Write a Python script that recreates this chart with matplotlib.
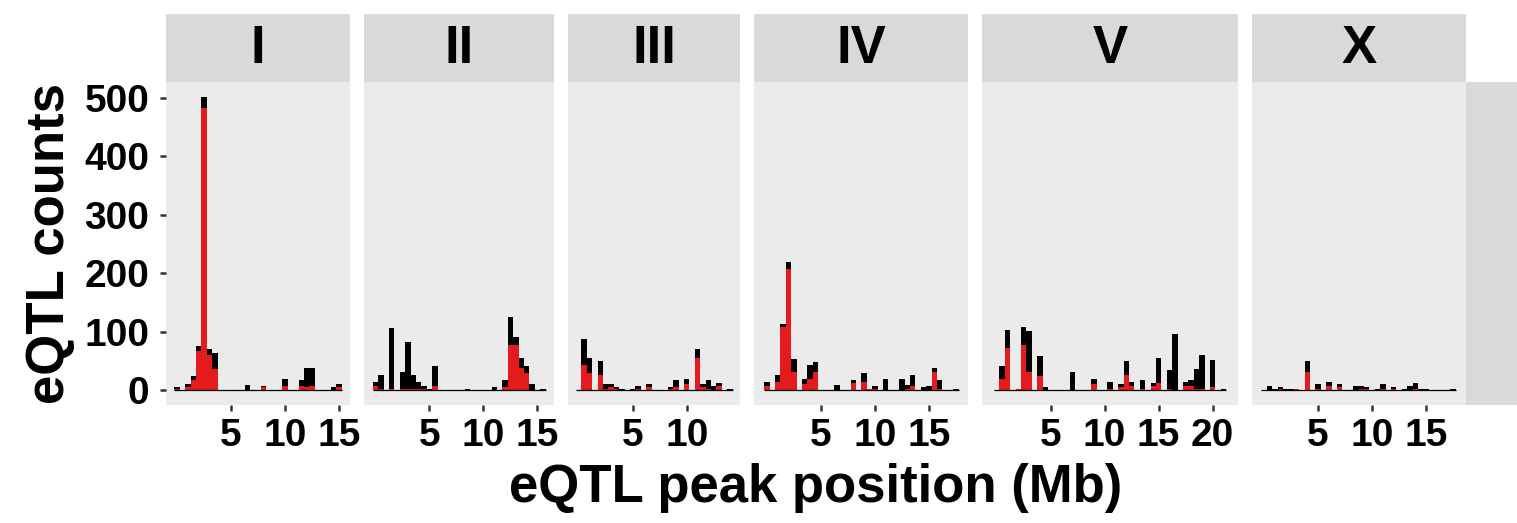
import numpy as np
import matplotlib
matplotlib.use("Agg")
import matplotlib.pyplot as plt
from matplotlib.patches import Rectangle

# eQTL counts per 0.5 Mb bin, starting at 0 Mb (black = all, red = red subset)
chroms = ["I", "II", "III", "IV", "V", "X"]

all_I = [5, 0, 10, 24, 75, 502, 70, 63, 0, 0, 0, 0, 0, 9, 0, 0, 7, 0, 0, 0,
         20, 0, 0, 17, 38, 39, 0, 0, 0, 5, 10]
red_I = [2, 0, 5, 17, 68, 482, 60, 36, 0, 0, 0, 0, 0, 1, 0, 0, 5, 0, 0, 0,
         7, 0, 0, 7, 6, 7, 0, 0, 0, 1, 5]

all_II = [15, 26, 0, 106, 0, 31, 82, 26, 15, 7, 2, 41, 0, 0, 0, 0, 0, 3, 0, 0,
          0, 0, 5, 0, 17, 126, 92, 56, 41, 10, 0, 2]
red_II = [7, 2, 0, 2, 0, 2, 2, 2, 3, 3, 1, 8, 0, 0, 0, 0, 0, 1, 0, 0,
          0, 0, 0, 0, 5, 77, 77, 39, 29, 0, 0, 0]

all_III = [0, 87, 56, 0, 50, 10, 10, 5, 3, 0, 2, 8, 0, 10, 0, 0, 0, 5, 17, 0,
           19, 0, 70, 10, 17, 7, 12, 0, 2]
red_III = [0, 44, 29, 0, 27, 3, 5, 3, 1, 0, 1, 3, 0, 5, 0, 0, 0, 2, 5, 0,
           10, 0, 56, 5, 3, 1, 8, 0, 0]

all_IV = [14, 0, 27, 113, 220, 53, 0, 20, 44, 48, 0, 0, 0, 9, 0, 0, 17, 0, 29, 3,
          7, 0, 20, 0, 0, 20, 9, 27, 0, 5, 7, 39, 17, 0, 0, 2]
red_IV = [7, 0, 14, 109, 208, 31, 0, 10, 19, 31, 0, 0, 0, 1, 0, 0, 12, 0, 14, 2,
          3, 0, 1, 0, 0, 1, 2, 7, 0, 1, 0, 31, 2, 0, 0, 0]

all_V = [0, 41, 103, 0, 3, 108, 101, 0, 58, 5, 0, 0, 0, 0, 32, 0, 0, 0, 19, 0,
         0, 14, 0, 10, 50, 15, 0, 17, 0, 12, 56, 0, 34, 97, 0, 15, 17, 36, 60, 0,
         51, 0, 2]
red_V = [0, 20, 73, 0, 2, 77, 31, 0, 24, 0, 0, 0, 0, 0, 1, 0, 0, 0, 10, 0,
         0, 3, 0, 5, 27, 8, 0, 3, 0, 7, 12, 0, 2, 1, 0, 7, 8, 2, 2, 0,
         5, 0, 0]

all_X = [0, 7, 2, 5, 2, 2, 3, 0, 50, 0, 10, 0, 15, 0, 10, 0, 0, 8, 7, 5,
         0, 3, 10, 0, 5, 0, 2, 8, 12, 3, 3, 0, 0, 0, 0, 2]
red_X = [0, 0, 1, 2, 1, 1, 2, 0, 32, 0, 2, 0, 8, 0, 5, 0, 0, 1, 3, 2,
         0, 1, 2, 0, 2, 0, 1, 1, 3, 1, 0, 0, 0, 0, 0, 0]

x_breaks = [5, 10, 15, 20]
y_breaks = [0, 100, 200, 300, 400, 500]

all_counts = [all_I, all_II, all_III, all_IV, all_V, all_X]
red_counts = [red_I, red_II, red_III, red_IV, red_V, red_X]

BIN = 0.5
RED = "#E41A1C"
PANEL_BG = "#EBEBEB"
STRIP_BG = "#D9D9D9"
FONT = "Liberation Sans"

W, H = 1517, 523
fig = plt.figure(figsize=(W / 100, H / 100), dpi=100)

# layout in pixels (ggplot facet_grid, space = "free_x")
px_per_mb = 10.8
left0 = 166
gap = 14
panel_top, panel_bot = 82, 405
strip_top = 14

ymax = max(max(a) for a in all_counts)
ylim = (-0.05 * ymax, ymax * 1.05)

def fx(px):
    return px / W

def fy(py):
    return 1 - py / H

x = left0
for i, (name, tot, red) in enumerate(zip(chroms, all_counts, red_counts)):
    pos = np.arange(len(tot)) * BIN
    lo = pos[0] - BIN / 2
    hi = pos[-1] + BIN / 2
    pad = 0.05 * (hi - lo)
    xlim = (lo - pad, hi + pad)
    width_px = (xlim[1] - xlim[0]) * px_per_mb

    ax = fig.add_axes([fx(x), fy(panel_bot), fx(width_px), (panel_bot - panel_top) / H])
    ax.set_facecolor(PANEL_BG)
    ax.bar(pos, tot, width=BIN, color="black", linewidth=0)
    ax.bar(pos, red, width=BIN, color=RED, linewidth=0)
    ax.hlines(0, lo, hi, color="black", lw=0.9, zorder=3)
    ax.set_xlim(xlim)
    ax.set_ylim(ylim)
    for s in ax.spines.values():
        s.set_visible(False)

    ax.set_xticks([b for b in x_breaks if xlim[0] < b < xlim[1]])
    ax.tick_params(axis="both", length=4, width=1.8, color="#333333",
                   labelsize=28, labelcolor="black")
    ax.tick_params(axis="x", pad=5)
    ax.tick_params(axis="y", pad=8)
    if i == 0:
        ax.set_yticks(y_breaks)
    else:
        ax.set_yticks([])
    for lab in ax.get_xticklabels() + ax.get_yticklabels():
        lab.set_fontfamily(FONT)
        lab.set_fontweight("bold")

    # strip on top
    sax = fig.add_axes([fx(x), fy(panel_top), fx(width_px), (panel_top - strip_top) / H])
    sax.set_facecolor(STRIP_BG)
    sax.set_xticks([])
    sax.set_yticks([])
    for s in sax.spines.values():
        s.set_visible(False)
    sax.text(0.5, 0.48, name, ha="center", va="center", fontsize=38,
             fontweight="bold", family=FONT, transform=sax.transAxes)

    x += width_px + gap

# empty right-hand strip
fig.patches.append(Rectangle((fx(x - gap), fy(panel_bot)), fx(W - (x - gap) + 5),
                             (panel_bot - panel_top) / H, facecolor=STRIP_BG,
                             edgecolor="none", transform=fig.transFigure))

fig.text(fx((left0 + x - gap) / 2), fy(502), "eQTL peak position (Mb)", ha="center",
         va="baseline", fontsize=38, fontweight="bold", family=FONT)
fig.text(fx(50), fy((panel_top + panel_bot) / 2), "eQTL counts", rotation=90,
         ha="center", va="center", fontsize=38, fontweight="bold", family=FONT)

fig.savefig("out.png", dpi=100)
